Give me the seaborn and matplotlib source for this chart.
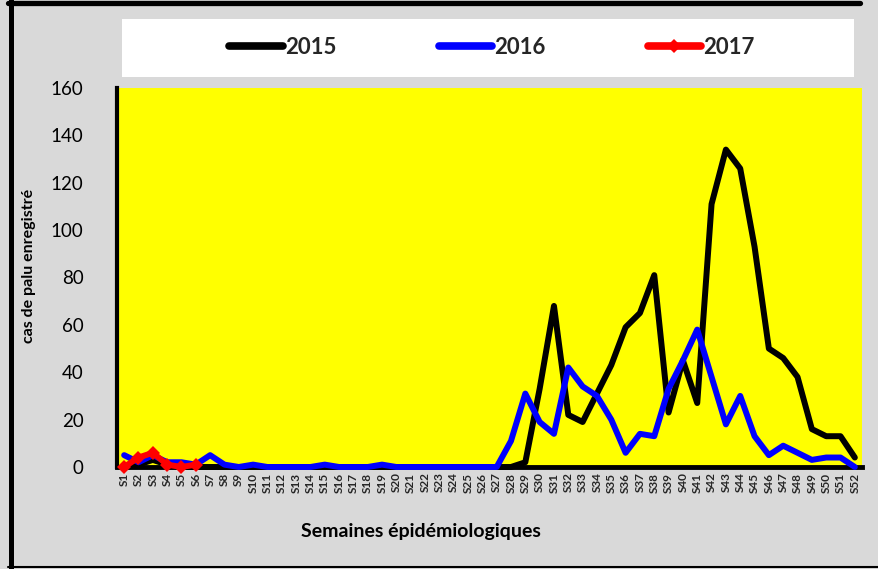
import matplotlib
matplotlib.use("Agg")
import matplotlib.pyplot as plt
from matplotlib.patches import Rectangle
from matplotlib.lines import Line2D
import seaborn as sns
import pandas as pd

# Weekly malaria case counts per epidemiological week
semaines = [f"S{i}" for i in range(1, 53)]

cas_2015 = [0, 1, 3, 1, 0, 0, 0, 0, 0, 0, 0, 0, 0, 0, 0, 0, 0, 0, 0, 0,
            0, 0, 0, 0, 0, 0, 0, 0, 2, 33, 68, 22, 19, 31, 43, 59, 65, 81,
            23, 45, 27, 111, 134, 126, 93, 50, 46, 38, 16, 13, 13, 4]
cas_2016 = [5, 2, 5, 2, 2, 1, 5, 1, 0, 1, 0, 0, 0, 0, 1, 0, 0, 0, 1, 0,
            0, 0, 0, 0, 0, 0, 0, 11, 31, 19, 14, 42, 34, 30, 20, 6, 14, 13,
            33, 45, 58, 38, 18, 30, 13, 5, 9, 6, 3, 4, 4, 0]
cas_2017 = [0, 4, 6, 1, 0, 1]

annees = ["2015", "2016", "2017"]
couleurs = {"2015": "#000000", "2016": "#0000FF", "2017": "#FF0000"}

df = pd.concat([
    pd.DataFrame({"semaine": semaines, "cas": cas_2015, "annee": "2015"}),
    pd.DataFrame({"semaine": semaines, "cas": cas_2016, "annee": "2016"}),
    pd.DataFrame({"semaine": semaines[:len(cas_2017)], "cas": cas_2017, "annee": "2017"}),
], ignore_index=True)

sns.set_theme(style="white")
plt.rcParams["font.family"] = ["Lato", "DejaVu Sans"]

W, H = 879, 569
fig = plt.figure(figsize=(W / 100, H / 100), dpi=100, facecolor="#D9D9D9")

# outer chart frame
fig.add_artist(Line2D([10.5 / W, 10.5 / W], [0, 1], transform=fig.transFigure,
                      color="black", lw=3.6))
fig.add_artist(Line2D([8 / W, 860 / W], [1 - 2.5 / H, 1 - 2.5 / H],
                      transform=fig.transFigure, color="black", lw=3.8))
fig.add_artist(Line2D([8 / W, 1], [1 - 567 / H, 1 - 567 / H],
                      transform=fig.transFigure, color="black", lw=1.5))

# white legend panel
fig.add_artist(Rectangle((122 / W, 1 - 77 / H), (854 - 122) / W, (77 - 19) / H,
                         transform=fig.transFigure, facecolor="white",
                         edgecolor="none", zorder=1))

ax = fig.add_axes([117 / W, 1 - 467 / H, (862 - 117) / W, (467 - 88) / H])
ax.set_facecolor("#FFFF00")

for k, an in enumerate(annees):
    sub = df[df["annee"] == an]
    sns.lineplot(data=sub, x="semaine", y="cas", ax=ax, color=couleurs[an],
                 lw=4.3, label=an, sort=False,
                 marker="D" if an == "2017" else None, markersize=7.5,
                 markeredgewidth=0, solid_capstyle="round",
                 solid_joinstyle="round", zorder=3 + k, clip_on=False)

ax.set_xlim(-0.5, 51.5)
ax.set_ylim(0, 160)
ax.set_yticks(range(0, 161, 20))
ax.tick_params(axis="both", length=0)
ax.tick_params(axis="y", labelsize=13.5, pad=24)
ax.tick_params(axis="x", pad=4)
ax.set_xticks(range(len(semaines)))
ax.set_xticklabels(semaines, rotation=90, fontsize=8.5, fontweight="bold")
for lab in ax.get_yticklabels():
    lab.set_color("black")

for side in ["top", "right"]:
    ax.spines[side].set_visible(False)
ax.spines["left"].set_color("black")
ax.spines["left"].set_linewidth(3)
ax.spines["bottom"].set_color("black")
ax.spines["bottom"].set_linewidth(3.5)

ax.set_xlabel("")
ax.set_ylabel("cas de palu enregistré", fontsize=11.5, fontweight="bold",
              color="black")
ax.yaxis.set_label_coords(-(117 - 36) / (862 - 117), (467 - 266) / (467 - 88))
fig.text(421 / W, 1 - 531 / H, "Semaines épidémiologiques", ha="center",
         va="center", fontsize=14, fontweight="bold", color="black")

handles, labels = ax.get_legend_handles_labels()
ax.get_legend().remove()
leg = fig.legend(handles, labels, loc="center", ncol=3, frameon=False,
                 bbox_to_anchor=(492 / W, 1 - 47 / H),
                 prop={"family": "Lato", "weight": "bold", "size": 16},
                 handlelength=2.4, handletextpad=0.1, columnspacing=4.6)
for h in leg.legend_handles:
    h.set_linewidth(5.5)
leg.set_zorder(3)

fig.savefig("out.png", dpi=100, facecolor=fig.get_facecolor())
